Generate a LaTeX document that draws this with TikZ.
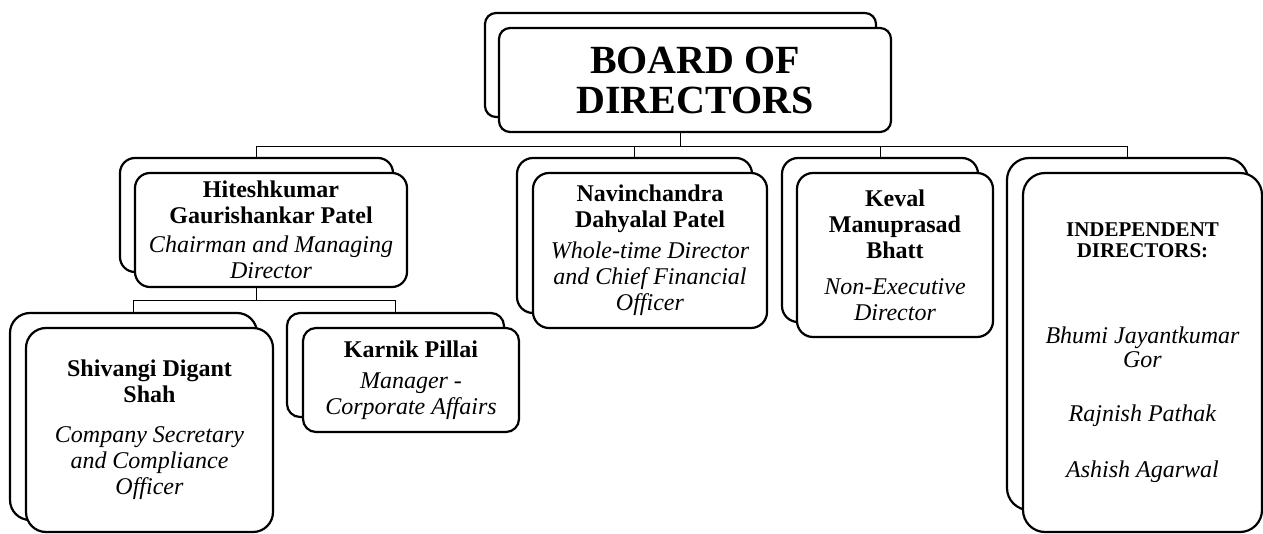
\documentclass[tikz,border=0pt]{standalone}
\usepackage{fontspec}
\setmainfont{Liberation Serif}
\usetikzlibrary{backgrounds}

\tikzset{
  card/.style={draw, line width=2.2pt, fill=white, inner sep=0pt, outer sep=0pt, align=center},
  link/.style={line width=0.9pt}
}
\newcommand\nm[1]{\textbf{#1}}
\newcommand\rl[1]{\textit{#1}}
\newcommand\hd[1]{{\fontsize{21}{21}\selectfont\bfseries #1}}

\begin{document}
\begin{tikzpicture}[x=1pt, y=-1pt, font=\fontsize{24}{26}\selectfont]
\useasboundingbox (0,0) rectangle (1263,534);

% top
\node[card, rounded corners=11pt, minimum width=391pt, minimum height=104pt] (bBoard) at (680.5,65) {};
\node[card, rounded corners=11pt, minimum width=392pt, minimum height=104pt,
      font=\fontsize{40}{40}\selectfont\bfseries] (fBoard) at (695,80) {BOARD OF\\DIRECTORS};

% second row
\node[card, rounded corners=15pt, minimum width=273pt, minimum height=114pt] (bHitesh) at (256.5,215) {};
\node[card, rounded corners=15pt, minimum width=272pt, minimum height=114pt] (fHitesh) at (271,230)
  {\nm{Hiteshkumar}\\\nm{Gaurishankar Patel}\\[3pt]\rl{Chairman and Managing}\\\rl{Director}};

\node[card, rounded corners=16pt, minimum width=235pt, minimum height=155pt] (bNavin) at (634.5,235.5) {};
\node[card, rounded corners=16pt, minimum width=234pt, minimum height=155pt] (fNavin) at (650,250.5)
  {\nm{Navinchandra}\\\nm{Dahyalal Patel}\\[5pt]\rl{Whole-time Director}\\\rl{and Chief Financial}\\\rl{Officer}};

\node[card, rounded corners=16pt, minimum width=196pt, minimum height=164pt] (bKeval) at (880,240) {};
\node[card, rounded corners=16pt, minimum width=196pt, minimum height=164pt] (fKeval) at (895,255)
  {\nm{Keval}\\\nm{Manuprasad}\\\nm{Bhatt}\\[10pt]\rl{Non-Executive}\\\rl{Director}};

\node[card, rounded corners=22pt, minimum width=241pt, minimum height=352pt] (bIndep) at (1127.5,334) {};
\node[card, rounded corners=22pt, minimum width=239pt, minimum height=359pt] (fIndep) at (1142.5,352.5)
  {\hd{INDEPENDENT}\\[-5pt]\hd{DIRECTORS:}\\[60pt]\rl{Bhumi Jayantkumar}\\[-2pt]\rl{Gor}\\[28pt]\rl{Rajnish Pathak}\\[30pt]\rl{Ashish Agarwal}};

% third row
\node[card, rounded corners=20pt, minimum width=247pt, minimum height=207pt] (bShivangi) at (133.5,416.5) {};
\node[card, rounded corners=20pt, minimum width=247pt, minimum height=204pt] (fShivangi) at (149.5,430)
  {\nm{Shivangi Digant}\\\nm{Shah}\\[14pt]\rl{Company Secretary}\\\rl{and Compliance}\\\rl{Officer}};

\node[card, rounded corners=13pt, minimum width=217pt, minimum height=104pt] (bKarnik) at (395.5,365) {};
\node[card, rounded corners=13pt, minimum width=216pt, minimum height=104pt] (fKarnik) at (411,380)
  {\nm{Karnik Pillai}\\[5pt]\rl{Manager -}\\\rl{Corporate Affairs}};

% links
\begin{scope}[on background layer]
\draw[link] (bBoard.south) -- ++(0,29) coordinate (bus);
\foreach \n in {bHitesh,bNavin,bKeval,bIndep}
  \draw[link] (bus) -| (\n.north);
\draw[link] (bHitesh.south) -- ++(0,28) coordinate (subbus);
\foreach \n in {bShivangi,bKarnik}
  \draw[link] (subbus) -| (\n.north);
\end{scope}
\end{tikzpicture}
\end{document}
